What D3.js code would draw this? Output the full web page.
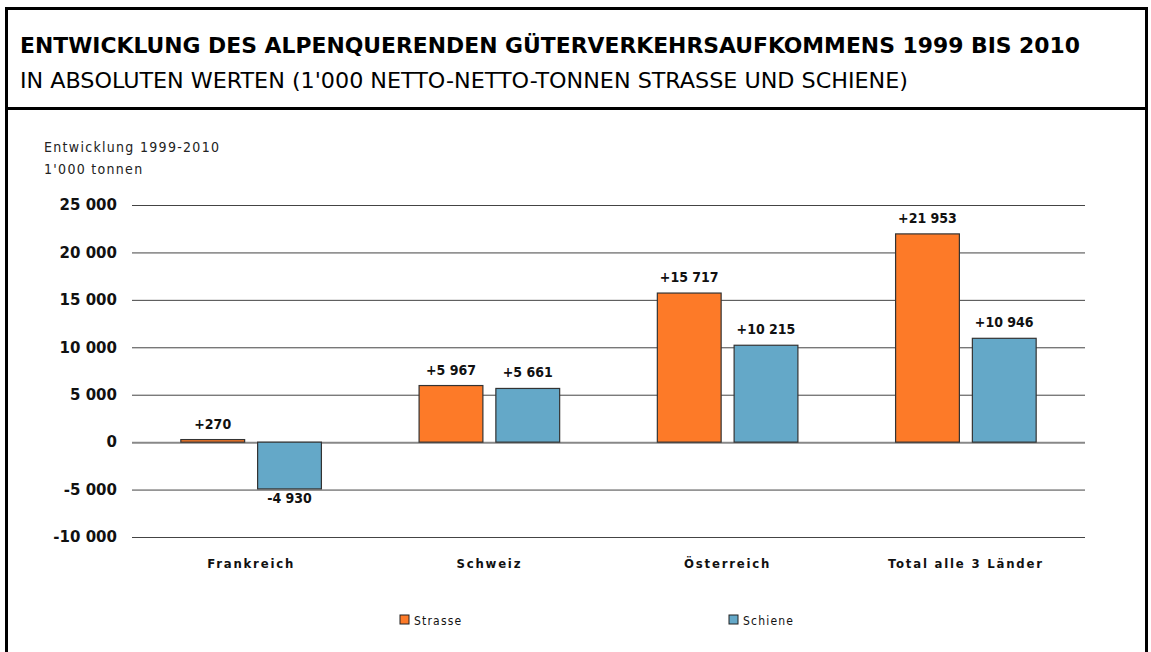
<!DOCTYPE html>
<html>
<head>
<meta charset="utf-8">
<script src="https://cdnjs.cloudflare.com/ajax/libs/d3/7.8.5/d3.min.js"></script>
<style>
  body { margin: 0; background: #fff; }
  svg { display: block; }
</style>
</head>
<body>
<script>
"use strict";

// data
const categories = ["Frankreich", "Schweiz", "Österreich", "Total alle 3 Länder"];
const series = ["Strasse", "Schiene"];
const strasse = [270, 5967, 15717, 21953];
const schiene = [-4930, 5661, 10215, 10946];
const yTicks = [25000, 20000, 15000, 10000, 5000, 0, -5000, -10000];

const width = 1151, height = 652;
const colors = { Strasse: "#fd7a28", Schiene: "#64a8c8" };

const fmt = v => {
  let s = d3.format(",")(Math.abs(v)).replace(/,/g, " ");
  return (v < 0 ? "-" : "") + s;
};

const svg = d3.select("body").append("svg")
    .attr("width", width)
    .attr("height", height);

// frame
svg.append("path")
    .attr("d", "M6.5,652 V8.5 H1146.5 V652 M6.5,108.5 H1146.5")
    .attr("fill", "none")
    .attr("stroke", "#000")
    .attr("stroke-width", 3);

// title
svg.append("text")
    .attr("x", 20).attr("y", 53)
    .attr("font-family", "'DejaVu Sans Condensed', 'DejaVu Sans', sans-serif")
    .attr("font-weight", "bold")
    .attr("font-size", 22)
    .attr("textLength", 1060).attr("lengthAdjust", "spacingAndGlyphs")
    .text("ENTWICKLUNG DES ALPENQUERENDEN GÜTERVERKEHRSAUFKOMMENS 1999 BIS 2010");

svg.append("text")
    .attr("x", 20).attr("y", 88)
    .attr("font-family", "'DejaVu Sans Condensed', 'DejaVu Sans', sans-serif")
    .attr("font-size", 22)
    .attr("textLength", 888).attr("lengthAdjust", "spacingAndGlyphs")
    .text("IN ABSOLUTEN WERTEN (1'000 NETTO-NETTO-TONNEN STRASSE UND SCHIENE)");

// axis caption
const cap = svg.append("text")
    .attr("font-family", "'DejaVu Sans Condensed', sans-serif")
    .attr("font-size", 14)
    .attr("letter-spacing", 1.3)
    .attr("fill", "#222");
cap.append("tspan").attr("x", 44).attr("y", 152).text("Entwicklung 1999-2010");
cap.append("tspan").attr("x", 44).attr("y", 174).text("1'000 tonnen");

// scales
const y = d3.scaleLinear().domain([-10000, 25000]).range([537, 205]);
const x0 = d3.scaleBand().domain(categories).range([132, 1085])
    .paddingInner(0.41).paddingOuter(0.205);
const x1 = d3.scaleBand().domain(series).range([0, x0.bandwidth()]).paddingInner(0.169);

// grid + y labels
const yAxis = svg.append("g")
    .attr("transform", "translate(132,0)")
    .call(d3.axisLeft(y).tickValues(yTicks).tickSize(-(1085 - 132)).tickPadding(15).tickFormat(fmt));
yAxis.select(".domain").remove();
yAxis.selectAll(".tick line")
    .attr("stroke", d => d === 0 ? "#888" : "#444")
    .attr("stroke-width", d => d === 0 ? 2 : 1);
yAxis.selectAll(".tick text")
    .attr("font-family", "'DejaVu Sans', sans-serif")
    .attr("font-weight", "bold")
    .attr("font-size", 15)
    .attr("fill", "#111");

// bars
const rows = categories.map((c, i) => ({ cat: c, values: [
  { key: "Strasse", value: strasse[i] },
  { key: "Schiene", value: schiene[i] }
]}));

const groups = svg.selectAll("g.grp")
  .data(rows)
  .enter().append("g")
    .attr("class", "grp")
    .attr("transform", d => "translate(" + x0(d.cat) + ",0)");

groups.selectAll("rect")
  .data(d => d.values)
  .enter().append("rect")
    .attr("x", d => x1(d.key))
    .attr("y", d => y(Math.max(0, d.value)))
    .attr("width", x1.bandwidth())
    .attr("height", d => Math.abs(y(d.value) - y(0)))
    .attr("fill", d => colors[d.key])
    .attr("stroke", "#333")
    .attr("stroke-width", 1.2);

groups.selectAll("text.val")
  .data(d => d.values)
  .enter().append("text")
    .attr("class", "val")
    .attr("x", d => x1(d.key) + x1.bandwidth() / 2)
    .attr("y", d => d.value >= 0 ? y(d.value) - 11 : y(d.value) + 14)
    .attr("text-anchor", "middle")
    .attr("font-family", "'DejaVu Sans Condensed', sans-serif")
    .attr("font-weight", "bold")
    .attr("font-size", 14)
    .attr("fill", "#111")
    .text(d => (d.value > 0 ? "+" : "") + fmt(d.value));

// category labels
svg.selectAll("text.cat")
  .data(categories)
  .enter().append("text")
    .attr("class", "cat")
    .attr("x", d => x0(d) + x0.bandwidth() / 2)
    .attr("y", 568)
    .attr("text-anchor", "middle")
    .attr("font-family", "'DejaVu Sans Condensed', sans-serif")
    .attr("font-weight", "bold")
    .attr("font-size", 13)
    .attr("letter-spacing", 1.8)
    .attr("fill", "#111")
    .text(d => d);

// legend
const legendX = [400, 729];
const legend = svg.selectAll("g.leg")
  .data(series)
  .enter().append("g")
    .attr("class", "leg")
    .attr("transform", (d, i) => "translate(" + legendX[i] + ",615)");
legend.append("rect")
    .attr("width", 9).attr("height", 9)
    .attr("fill", d => colors[d])
    .attr("stroke", "#222");
legend.append("text")
    .attr("x", 14).attr("y", 9.5)
    .attr("font-family", "'DejaVu Sans Condensed', sans-serif")
    .attr("font-size", 12)
    .attr("letter-spacing", 1.2)
    .attr("fill", "#111")
    .text(d => d);
</script>
</body>
</html>
